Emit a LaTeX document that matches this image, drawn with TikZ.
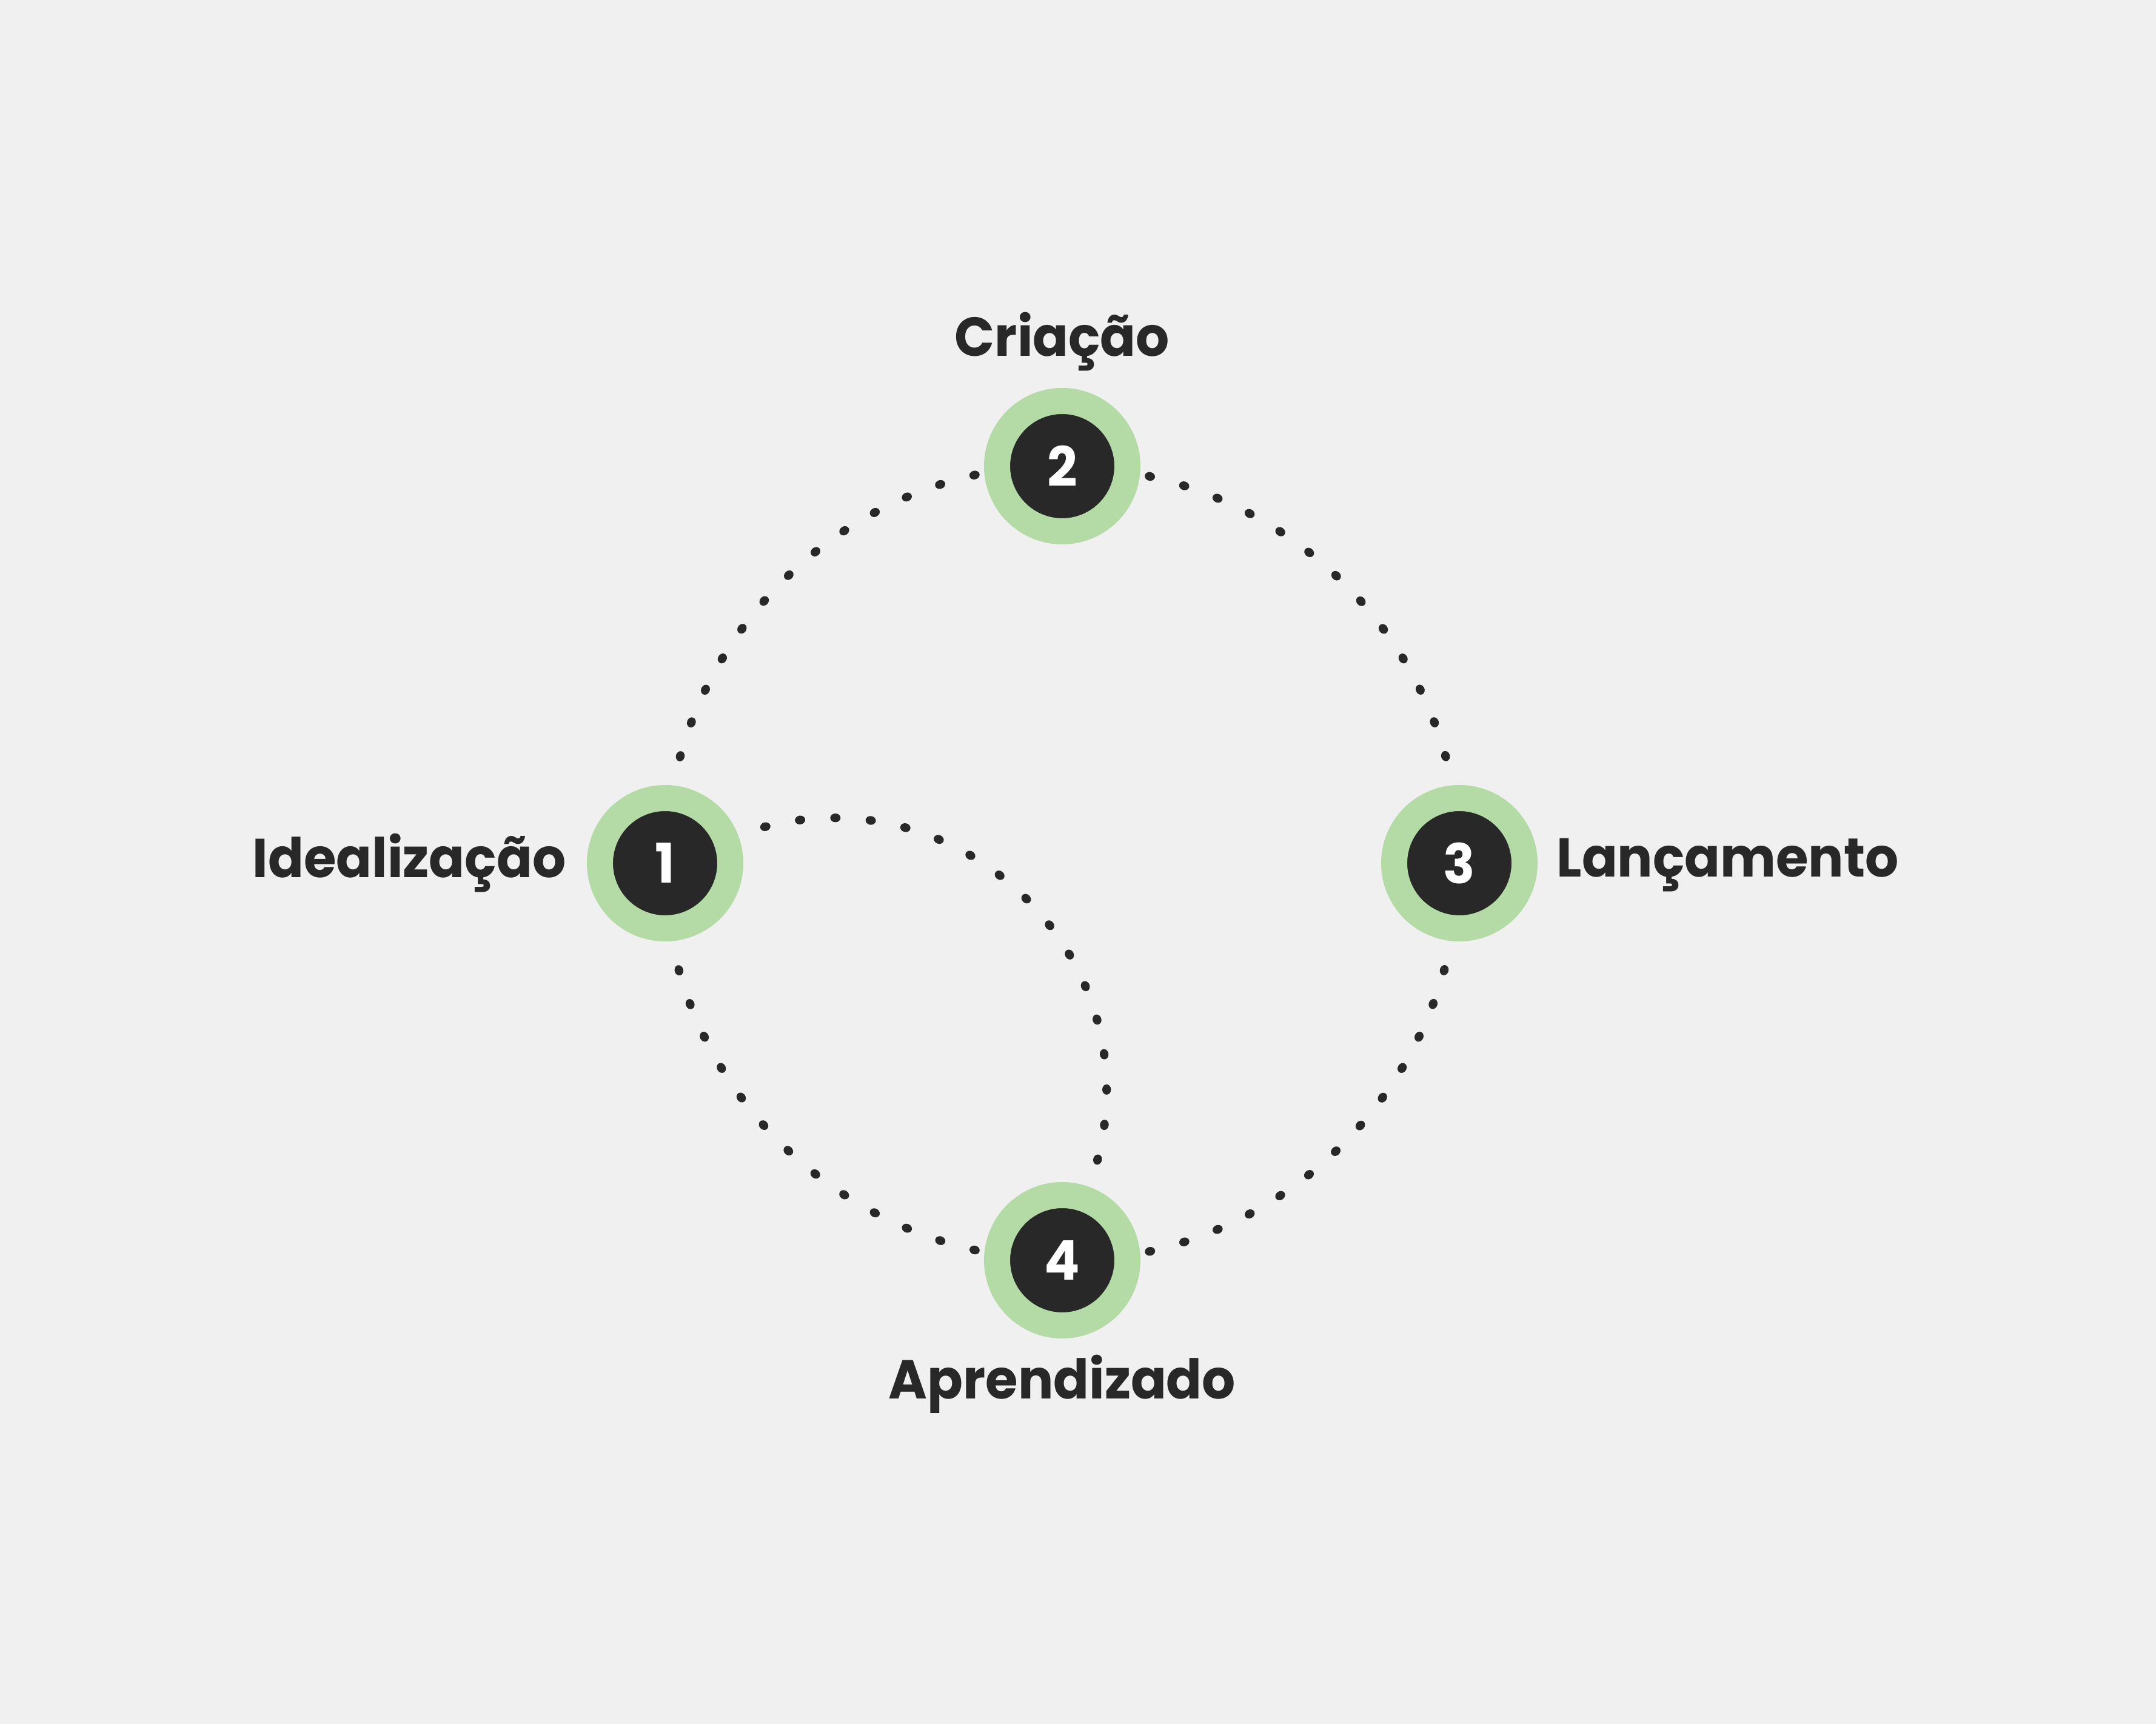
\documentclass[tikz,border=0pt]{standalone}
\usepackage{fontspec}
\setmainfont{Poppins}[FakeStretch=0.96]
\usetikzlibrary{positioning, decorations.markings}
\definecolor{cBg}{HTML}{F0F0F0}
\definecolor{cGreen}{HTML}{B4DBA5}
\definecolor{cDark}{HTML}{282828}

\begin{document}
\begin{tikzpicture}[
    stage/.style={
        circle, minimum size=2.15cm, inner sep=0pt,
        fill=cDark, draw=cGreen, line width=0.43cm,
        text=white, font=\fontsize{25.7}{30}\selectfont\bfseries
    },
    lbl/.style={inner sep=0pt, text=cDark, font=\fontsize{25.7}{30}\selectfont\bfseries},
    dotmark/.code={\fill[cDark] (0,0) ellipse (0.085 and 0.072);},
    dotarc/.style={decorate, decoration={markings,
        mark=between positions 0.166cm and 7.3cm step 0.587cm with {\tikzset{dotmark}}}},
    innerarc/.style={decorate, decoration={markings,
        mark=between positions 0.47cm and 10cm step 0.584cm with {\tikzset{dotmark}}}},
]

% background, fixes the margins
\fill[cBg] (-17.52,-14.20) rectangle (18.04,14.24);

% =============================================
% STAGES: four rings on one circle
% =============================================
\def\ringR{6.55}   % radius of the cycle in cm

\foreach \i/\ang in {1/180, 2/90, 3/0, 4/270} {
    \node[stage] (n\i) at (\ang:\ringR) {\i};
}

% stage names
\node[lbl, anchor=base east] (l1) at ([xshift=-0.34cm, yshift=-0.24cm]n1.west) {Idealização};
\node[lbl, anchor=base] (l2) at ([yshift=0.52cm]n2.north) {Criação};
\node[lbl, anchor=base west] (l3) at ([xshift=0.31cm, yshift=-0.23cm]n3.east) {Lançamento};
\node[lbl, anchor=base] (l4) at ([yshift=-0.99cm]n4.south) {Aprendizado};

% =============================================
% DOTTED CONNECTORS
% =============================================

% outer ring, each quarter starts next to 2 or 4
\path[dotarc] (n2.185.65) to[out=191.3, in=78.7, looseness=0.93] (n1.84.35);
\path[dotarc] (n2.354.35) to[out=-11.3, in=101.3, looseness=0.93] (n3.95.65);
\path[dotarc] (n4.5.65) to[out=11.3, in=258.7, looseness=0.93] (n3.264.35);
\path[dotarc] (n4.174.35) to[out=168.7, in=281.3, looseness=0.93] (n1.275.65);

% inner shortcut from 1 back to 4
\path[innerarc] (n1.21.6) to[out=20.1, in=69.7, looseness=1.2] (n4.70.1);

\end{tikzpicture}
\end{document}
